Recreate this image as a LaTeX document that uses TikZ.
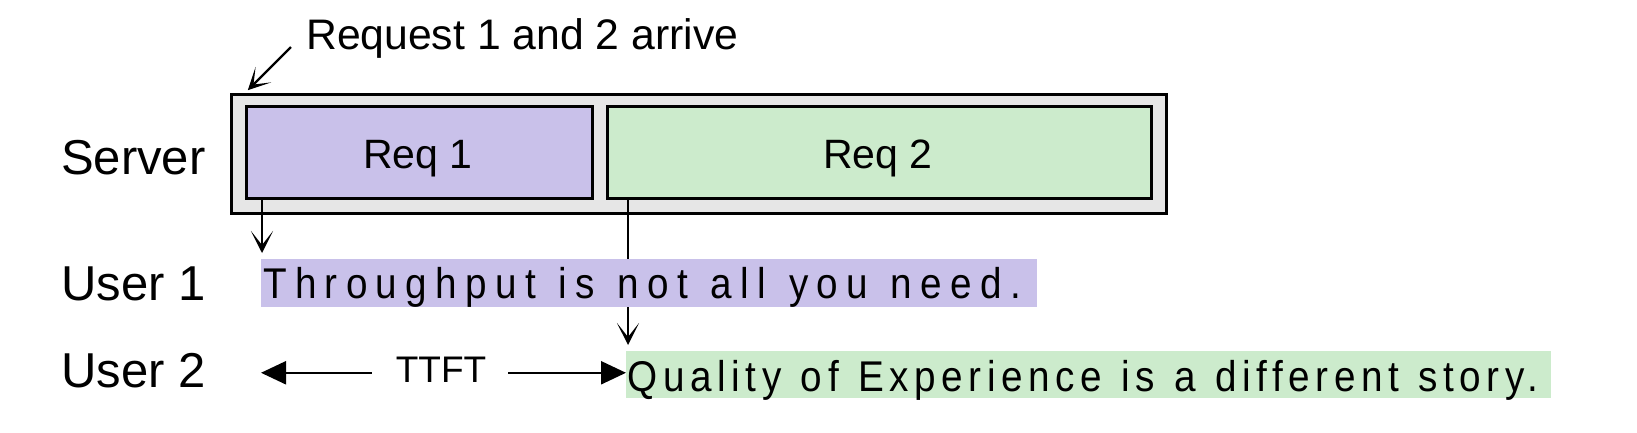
\documentclass[tikz,border=0pt]{standalone}
\usepackage{fontspec}
\setmainfont{Liberation Sans}
\newfontfamily\hlfontA[FakeStretch=0.9,LetterSpace=19.3,WordSpace=1.2]{Liberation Sans}
\newfontfamily\hlfontB[FakeStretch=0.9,LetterSpace=12.9,WordSpace=1.2]{Liberation Sans}
\usetikzlibrary{arrows.meta,calc}
\pgfdeclarelayer{fg}
\pgfsetlayers{main,fg}
\definecolor{purp}{HTML}{C9C1EA}
\definecolor{grn}{HTML}{CCEBCC}
\definecolor{gry}{HTML}{E6E6E6}
\newcommand{\fsz}[1]{\fontsize{#1}{#1}\selectfont}
\begin{document}
\begin{tikzpicture}[x=1pt,y=-1pt,
  lbl/.style={inner sep=0pt, anchor=base west, font=\fsz{49}},
  box/.style={draw, line width=2.7pt, inner sep=0pt, anchor=north west},
  reqlbl/.style={inner sep=0pt, anchor=base, font=\fsz{41}},
  conn/.style={line width=2.3pt, -{Stealth[length=22pt,width=22pt,inset=14pt]}},
  ttftarrow/.style={line width=2.3pt, -{Triangle[length=25pt,width=23pt]}},
  hl/.style={inner sep=0pt, anchor=north west}
]
\useasboundingbox (0,0) rectangle (1637,432);
% server box
\node[box, fill=gry, minimum width=935pt, minimum height=119pt] (server) at (230,93) {};
\node[box, fill=purp, minimum width=346pt, minimum height=92pt] (req1) at (245,105) {};
\node[box, fill=grn, minimum width=544pt, minimum height=92pt] (req2) at (606,105) {};
\node[reqlbl] (r1l) at (418,168) {Req 1};
\node[reqlbl] (r2l) at (878,168) {Req 2};
% labels
\node[lbl] (srv) at (61,174) {Server};
\node[lbl] (u1) at (61,300) {User 1};
\node[lbl] (u2) at (61,387) {User 2};
\node[inner sep=0pt, anchor=base west, font=\fsz{42.7}] (arr) at (306,49) {Request 1 and 2 arrive};
% highlighted texts
\begin{pgfonlayer}{fg}
\node[hl, fill=purp, font=\hlfontA\fsz{43}, text height=39pt, text depth=9pt] (t1) at (261,259)
  {\makebox[776pt][l]{\kern2pt Throughput is not all you need.}};
\end{pgfonlayer}
\node[hl, fill=grn, font=\hlfontB\fsz{43}, text height=40pt, text depth=7pt] (t2) at (626,351)
  {\makebox[925pt][l]{\kern1.5pt Quality of Experience is a different story.}};
% connectors
\coordinate (a0) at (291,47);
\draw[conn, shorten >=4pt] (a0) -- (req1.north west |- server.north);
\draw[conn, shorten >=6pt] ([xshift=1pt]t1.west |- req1.south) -- ([xshift=1pt]t1.north west);
\draw[conn, shorten >=6pt] ([xshift=2pt]t2.west |- req2.south) -- ([xshift=2pt]t2.north west);
% TTFT
\node[inner sep=0pt, anchor=base, font=\fsz{37}] (ttft) at (441,382) {TTFT};
\draw[ttftarrow, shorten <=24pt] ([yshift=-3.5pt]ttft.west) -- ([yshift=-3.5pt]ttft.west -| t1.west);
\draw[ttftarrow, shorten <=22pt] ([yshift=-3.5pt]ttft.east) -- ([yshift=-3.5pt]ttft.east -| t2.west);
\end{tikzpicture}
\end{document}
